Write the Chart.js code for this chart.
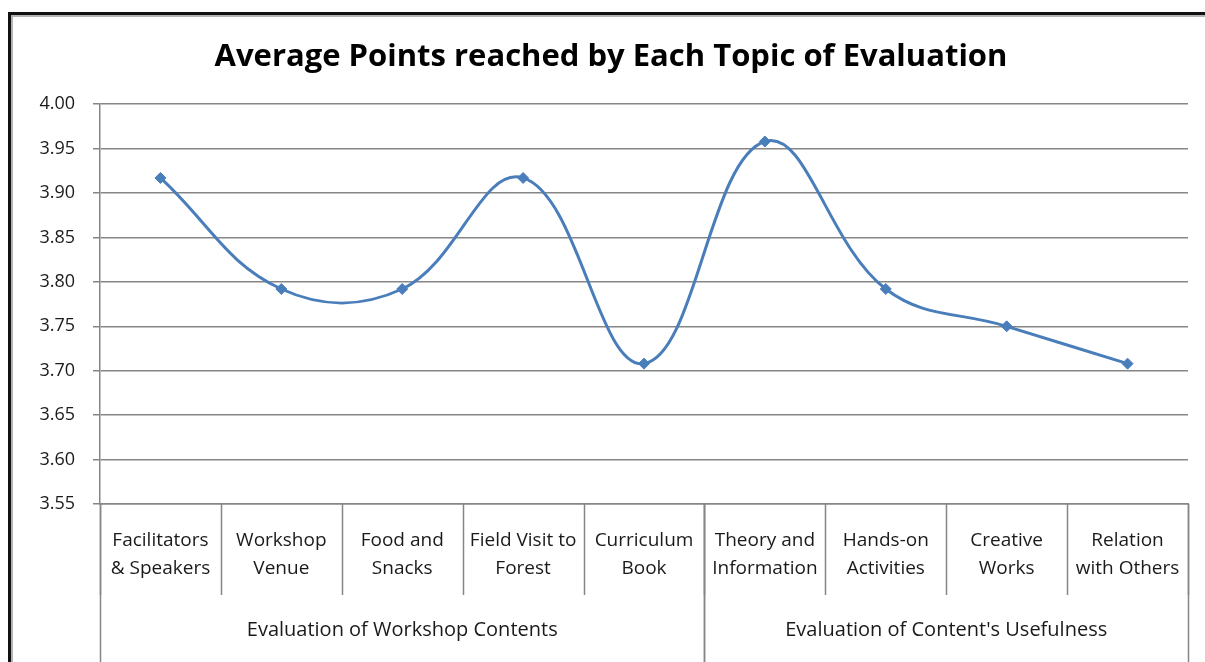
<!DOCTYPE html>
<html>
<head>
<meta charset="utf-8">
<script src="https://cdn.jsdelivr.net/npm/chart.js@4/dist/chart.umd.min.js"></script>
<style>
  html, body { margin: 0; padding: 0; background: #fff; overflow: hidden; }
  #frame { position: absolute; left: 8px; top: 12px; width: 1400px; height: 900px;
           border: 3px solid #111; box-shadow: inset 0 0 0 2px #b4b4b4; box-sizing: border-box; }
  #wrap { position: absolute; left: 0; top: 0; width: 1205px; height: 662px; }
</style>
</head>
<body>
<div id="frame"></div>
<div id="wrap"><canvas id="c" width="1205" height="662"></canvas></div>
<script>
const titleText = "Average Points reached by Each Topic of Evaluation";
const categories = [
  ["Facilitators", "& Speakers"],
  ["Workshop", "Venue"],
  ["Food and", "Snacks"],
  ["Field Visit to", "Forest"],
  ["Curriculum", "Book"],
  ["Theory and", "Information"],
  ["Hands-on", "Activities"],
  ["Creative", "Works"],
  ["Relation", "with Others"]
];
const values = [3.917, 3.792, 3.792, 3.917, 3.708, 3.958, 3.792, 3.75, 3.708];
const groupLabels = ["Evaluation of Workshop Contents", "Evaluation of Content's Usefulness"];
const groupSizes = [5, 4];
const yMin = 3.55, yMax = 4.00, yStep = 0.05;

const lineColor = '#4A7EBB';
const gridColor = '#868686';
const textColor = '#1a1a1a';

Chart.defaults.font.family = "'Open Sans', 'DejaVu Sans', sans-serif";

const groupPlugin = {
  id: 'groupAxis',
  afterDraw(chart) {
    const ctx = chart.ctx;
    const xs = chart.scales.x;
    const area = chart.chartArea;
    const n = categories.length;
    const half = (xs.getPixelForValue(1) - xs.getPixelForValue(0)) / 2;
    const top = area.bottom;
    const midY = top + 91;
    const bottomY = chart.height + 5;
    ctx.save();
    ctx.strokeStyle = gridColor;
    ctx.lineWidth = 1.5;
    for (let i = 0; i <= n; i++) {
      const x = Math.round(i < n ? xs.getPixelForValue(i) - half : xs.getPixelForValue(n - 1) + half) + 0.5;
      ctx.beginPath();
      ctx.moveTo(x, top);
      ctx.lineTo(x, midY);
      ctx.stroke();
    }
    let start = 0;
    const bounds = [];
    groupSizes.forEach(s => { bounds.push([start, start + s - 1]); start += s; });
    ctx.font = "20px 'Open Sans', sans-serif";
    ctx.fillStyle = textColor;
    ctx.textAlign = 'center';
    ctx.textBaseline = 'middle';
    bounds.forEach((b, gi) => {
      const x0 = xs.getPixelForValue(b[0]) - half;
      const x1 = xs.getPixelForValue(b[1]) + half;
      [x0, x1].forEach(x => {
        const px = Math.round(x) + 0.5;
        ctx.beginPath();
        ctx.moveTo(px, top);
        ctx.lineTo(px, bottomY);
        ctx.stroke();
      });
      ctx.fillText(groupLabels[gi], (x0 + x1) / 2, top + 126);
    });
    ctx.restore();
  }
};

new Chart(document.getElementById('c'), {
  type: 'line',
  data: {
    labels: categories,
    datasets: [{
      data: values,
      borderColor: lineColor,
      backgroundColor: lineColor,
      borderWidth: 3,
      pointStyle: 'rectRot',
      pointRadius: 5.5,
      pointBackgroundColor: lineColor,
      pointBorderColor: lineColor,
      pointBorderWidth: 1,
      tension: 0.4,
      fill: false
    }]
  },
  options: {
    responsive: false,
    animation: false,
    devicePixelRatio: 1,
    layout: { padding: { left: 34, right: 17, top: 0, bottom: 0 } },
    plugins: {
      legend: { display: false },
      tooltip: { enabled: false },
      title: {
        display: true,
        text: titleText,
        color: '#000',
        font: { size: 31, weight: 'bold', lineHeight: 1.2 },
        padding: { top: 39, bottom: 28 }
      }
    },
    scales: {
      x: {
        offset: true,
        afterFit(s) { s.height = 158; },
        grid: { display: false, drawOnChartArea: false, drawTicks: false },
        border: { display: true, color: gridColor, width: 1.5 },
        ticks: {
          color: textColor,
          font: { size: 19, lineHeight: 1.47 },
          padding: 23,
          maxRotation: 0,
          autoSkip: false
        }
      },
      y: {
        min: yMin,
        max: yMax,
        afterFit(s) { s.width = 66; },
        afterBuildTicks(s) {
          const t = [];
          for (let v = yMin; v <= yMax + 1e-9; v += yStep) t.push({ value: Math.round(v * 100) / 100 });
          s.ticks = t;
        },
        grid: { color: gridColor, lineWidth: 1.5, tickLength: 7, drawTicks: true },
        border: { display: true, color: gridColor, width: 1.5 },
        ticks: {
          color: textColor,
          font: { size: 18 },
          padding: 18,
          callback: v => Number(v).toFixed(2)
        }
      }
    }
  },
  plugins: [groupPlugin]
});
</script>
</body>
</html>
